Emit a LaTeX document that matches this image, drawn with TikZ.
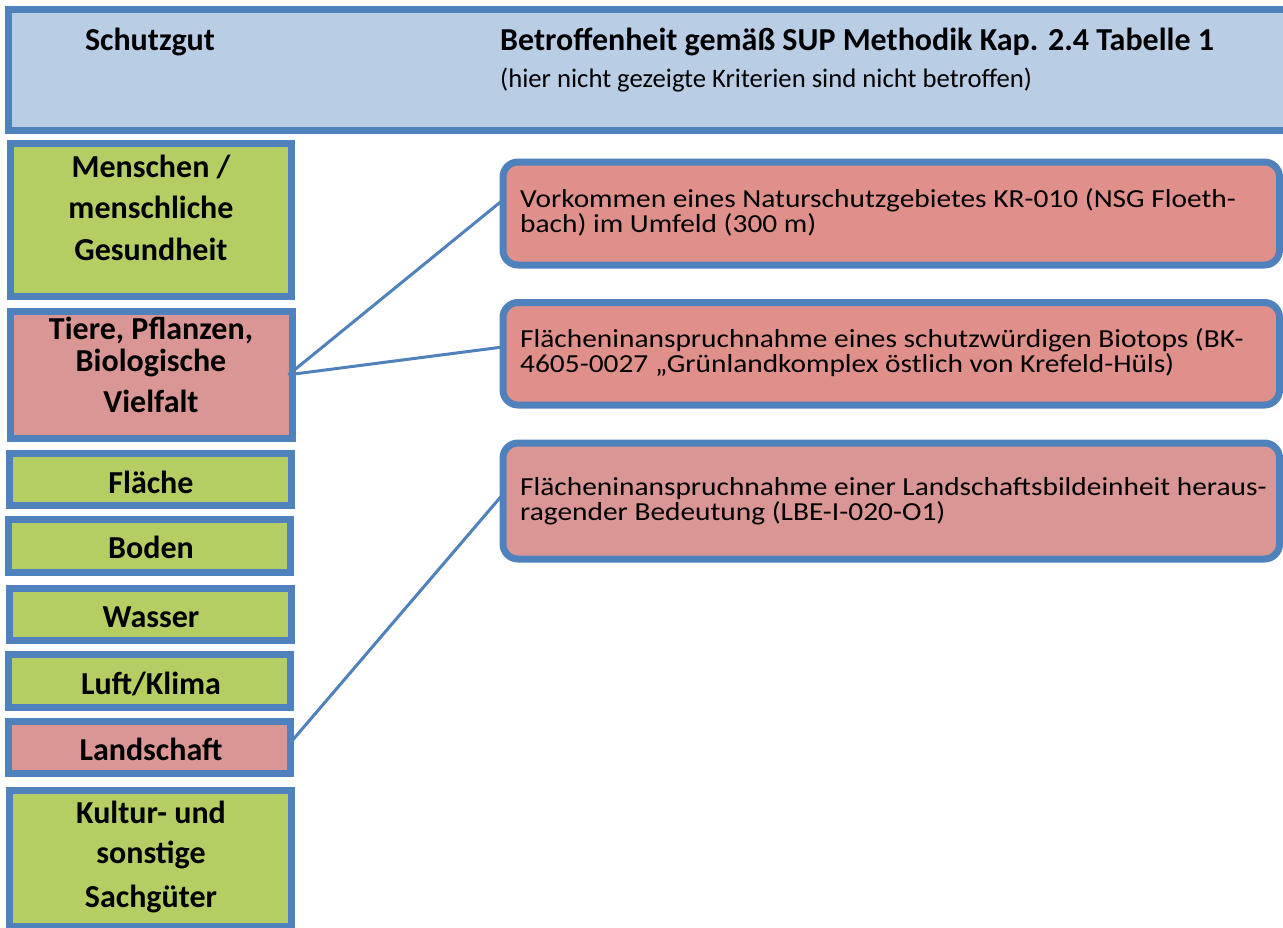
\documentclass[tikz,border=0pt]{standalone}
\usepackage{fontspec}
\setmainfont{Carlito}
\definecolor{frameblue}{RGB}{79,129,189}
\definecolor{headfill}{RGB}{185,205,229}
\definecolor{okgreen}{RGB}{180,206,100}
\definecolor{hitpink}{RGB}{217,150,148}
\definecolor{notepink}{RGB}{224,144,139}
% widened running text for the criteria boxes
\newcommand{\widetext}[1]{\scalebox{1.13}[1]{#1}}
\begin{document}
\begin{tikzpicture}[x=1pt,y=-1pt,
  framed/.style={draw=frameblue, line width=7pt, inner sep=0pt, outer sep=0pt},
  okbox/.style={framed, fill=okgreen},
  hitbox/.style={framed, fill=hitpink},
  notebox/.style={framed, rounded corners=15pt, fill=notepink, minimum width=776.5pt},
  lab/.style={font=\fontsize{32}{32}\selectfont\bfseries, anchor=base, inner sep=0pt},
  note/.style={font=\fontsize{26}{26}\selectfont, anchor=base west, inner sep=0pt},
  conn/.style={draw=frameblue, line width=3pt}]
\useasboundingbox (0,0) rectangle (1283,927);
\clip (0,0) rectangle (1283,927);

% header bar
\node[framed, fill=headfill, minimum width=1281.5pt, minimum height=120.5pt] (head) at (649.25,69.75) {};
\node[lab] (hschutz) at (150,50) {Schutzgut};
\node[font=\fontsize{32}{32}\selectfont\bfseries, anchor=base west, inner sep=0pt] (hbetr) at (500,50) {Betroffenheit gemäß SUP Methodik Kap. 2.4 Tabelle 1};
\node[font=\fontsize{26.7}{26.7}\selectfont, anchor=base west, inner sep=0pt] (hsub) at (500,87) {(hier nicht gezeigte Kriterien sind nicht betroffen)};

% Schutzgueter column
\node[okbox, minimum width=281pt, minimum height=152.5pt] (mensch) at (150.5,219.75) {};
\node[hitbox, minimum width=282pt, minimum height=126.5pt] (tiere) at (151.5,374.75) {};
\node[okbox, minimum width=282pt, minimum height=52pt] (flaeche) at (150.5,479.5) {};
\node[okbox, minimum width=282pt, minimum height=53pt] (boden) at (149.5,546) {};
\node[okbox, minimum width=282pt, minimum height=52pt] (wasser) at (150.5,614.5) {};
\node[okbox, minimum width=282pt, minimum height=53pt] (luft) at (149.5,681) {};
\node[hitbox, minimum width=282pt, minimum height=52pt] (land) at (149.5,747.5) {};
\node[okbox, minimum width=282pt, minimum height=136pt] (kultur) at (150.5,858.5) {};

\node[lab] (m1) at (151,177) {Menschen /};
\node[lab] (m2) at (151,218) {menschliche};
\node[lab] (m3) at (151,260) {Gesundheit};
\node[lab] (t1) at (151,339.5) {Tiere, Pflanzen,};
\node[lab] (t2) at (151,371) {Biologische};
\node[lab] (t3) at (151,412) {Vielfalt};
\node[lab] (f1) at (151,493) {Fläche};
\node[lab] (b1) at (151,558) {Boden};
\node[lab] (w1) at (151,627) {Wasser};
\node[lab] (l1) at (151,694) {Luft/Klima};
\node[lab] (la1) at (151,760) {Landschaft};
\node[lab] (k1) at (151,823) {Kultur- und};
\node[lab] (k2) at (151,863) {sonstige};
\node[lab] (k3) at (151,907) {Sachgüter};

% affected criteria
\node[notebox, minimum height=103pt] (r1) at (891.25,213.5) {};
\node[notebox, minimum height=102.5pt] (r2) at (891.25,353.75) {};
\node[notebox, fill=hitpink, minimum height=116pt] (r3) at (891.25,501) {};

\node[note] (r1a) at (520,207) {\widetext{Vorkommen eines Naturschutzgebietes KR-010 (NSG Floeth-}};
\node[note] (r1b) at (520,232) {\widetext{bach) im Umfeld (300 m)}};
\node[note] (r2a) at (520,347) {\widetext{Flächeninanspruchnahme eines schutzwürdigen Biotops (BK-}};
\node[note] (r2b) at (520,372) {\widetext{4605-0027 „Grünlandkomplex östlich von Krefeld-Hüls)}};
\node[note] (r3a) at (520,495) {\widetext{Flächeninanspruchnahme einer Landschaftsbildeinheit heraus-}};
\node[note] (r3b) at (520,520) {\widetext{ragender Bedeutung (LBE-I-020-O1)}};

% connectors
\draw[conn] ([xshift=-4pt]tiere.east) -- (r1.178);
\draw[conn] ([xshift=-4pt]tiere.east) -- (r2.179);
\draw[conn] (land.2) -- (r3.179.4);
\end{tikzpicture}
\end{document}
